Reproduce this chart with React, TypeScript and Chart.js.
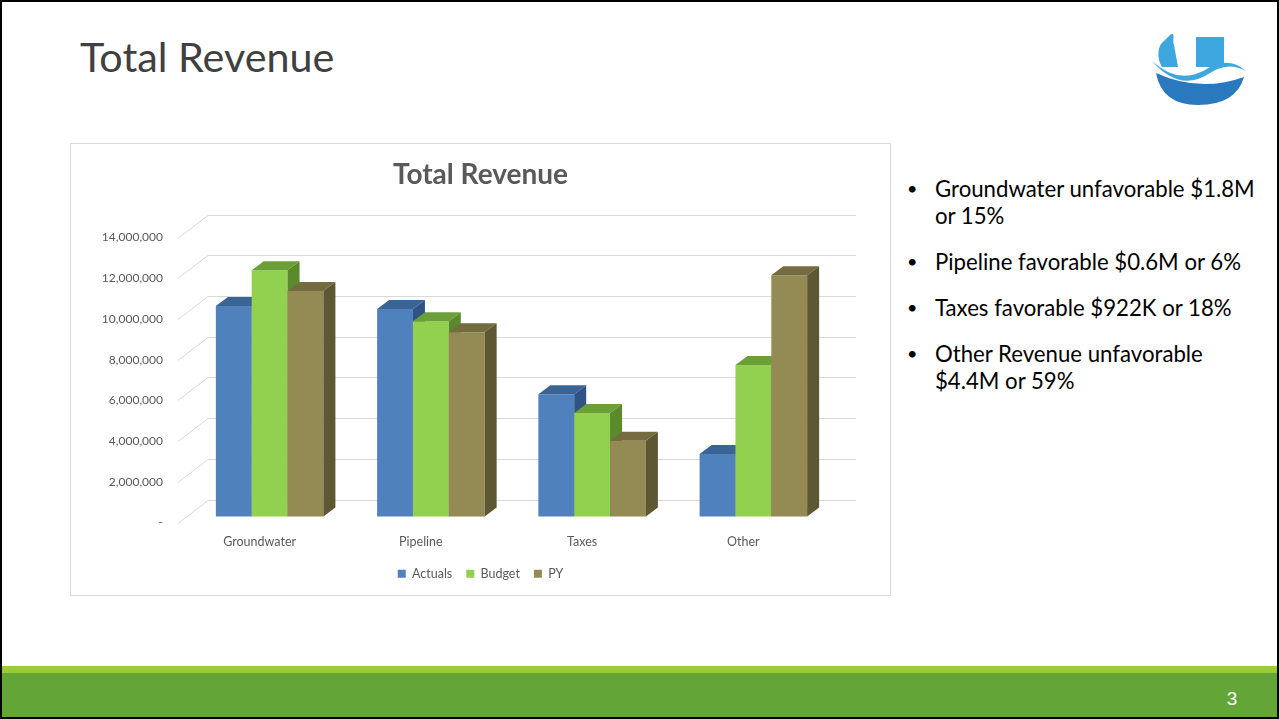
import React, { useEffect, useRef } from "react";
import { Chart, registerables } from "chart.js";

Chart.register(...registerables);

const categories = ["Groundwater", "Pipeline", "Taxes", "Other"];
const seriesNames = ["Actuals", "Budget", "PY"];
const actuals = [10340000, 10200000, 6010000, 3070000];
const budget = [12100000, 9600000, 5080000, 7450000];
const priorYear = [11080000, 9050000, 3720000, 11850000];
const yMin = 0;
const yMax = 14000000;
const yStep = 2000000;

const chartTitle = "Total Revenue";
const slideTitle = "Total Revenue";
const bullets = [
  "Groundwater unfavorable $1.8M or 15%",
  "Pipeline favorable $0.6M or 6%",
  "Taxes favorable $922K or 18%",
  "Other Revenue unfavorable $4.4M or 59%",
];
const pageNumber = "3";

const frontColors = ["#4F81BD", "#92D050", "#948A54"];
const topColors = ["#3A6494", "#6C9F38", "#746B40"];
const sideColors = ["#2E5384", "#5A8A2B", "#5E5734"];

const FONT = "Lato, 'Open Sans', sans-serif";

const fmt = (v: number) =>
  v === 0 ? "-" : String(Math.round(v)).replace(/\B(?=(\d{3})+(?!\d))/g, ",");

const DX = 12;
const DY = 9;

const threeDPlugin = {
  id: "threeD",
  beforeDraw(chart: any) {
    const { ctx, chartArea, scales } = chart;
    const y = scales.y;
    ctx.save();
    ctx.strokeStyle = "#D9D9D9";
    ctx.lineWidth = 1;
    y.ticks.forEach((t: any) => {
      const p = Math.round(y.getPixelForValue(t.value)) + 0.5;
      ctx.beginPath();
      ctx.moveTo(chartArea.left - 11, p + 6);
      ctx.lineTo(chartArea.left + 19, p - 17);
      ctx.lineTo(chartArea.right + 22, p - 17);
      ctx.stroke();
    });
    ctx.restore();
  },
  beforeDatasetsDraw(chart: any) {
    const { ctx } = chart;
    const n = chart.data.labels.length;
    ctx.save();
    for (let i = 0; i < n; i++) {
      chart.data.datasets.forEach((_ds: any, d: number) => {
        const meta = chart.getDatasetMeta(d);
        const el = meta.data[i];
        if (!el) return;
        const { x, y, base, width } = el.getProps(["x", "y", "base", "width"], true);
        const l = x - width / 2;
        const r = x + width / 2;
        el.draw(ctx);
        ctx.fillStyle = topColors[d];
        ctx.beginPath();
        ctx.moveTo(l, y);
        ctx.lineTo(r, y);
        ctx.lineTo(r + DX, y - DY);
        ctx.lineTo(l + DX, y - DY);
        ctx.closePath();
        ctx.fill();
        ctx.fillStyle = sideColors[d];
        ctx.beginPath();
        ctx.moveTo(r, y);
        ctx.lineTo(r + DX, y - DY);
        ctx.lineTo(r + DX, base - DY);
        ctx.lineTo(r, base);
        ctx.closePath();
        ctx.fill();
      });
    }
    ctx.restore();
    return false;
  },
};

function RevenueChart() {
  const ref = useRef<HTMLCanvasElement>(null);
  useEffect(() => {
    if (!ref.current) return;
    const series = [actuals, budget, priorYear];
    const chart = new Chart(ref.current, {
      type: "bar",
      data: {
        labels: categories,
        datasets: seriesNames.map((name, i) => ({
          label: name,
          data: series[i],
          backgroundColor: frontColors[i],
          borderWidth: 0,
          barPercentage: 1,
          categoryPercentage: 0.667,
          yAxisID: "y",
        })),
      },
      options: {
        responsive: false,
        animation: false,
        events: [],
        layout: { padding: { left: 0, right: 0, top: 0, bottom: 5 } },
        plugins: {
          title: {
            display: true,
            text: chartTitle,
            color: "#595959",
            font: { family: FONT, size: 28, weight: "bold" },
            padding: { top: 14, bottom: 40 },
          },
          legend: {
            position: "bottom",
            labels: {
              boxWidth: 8,
              boxHeight: 8,
              color: "#595959",
              padding: 14,
              font: { family: FONT, size: 12.5 },
            },
          },
          tooltip: { enabled: false },
        },
        scales: {
          x: {
            grid: { display: false, drawTicks: false },
            border: { display: false },
            ticks: {
              color: "#595959",
              font: { family: FONT, size: 12.5 },
              padding: 18,
              labelOffset: -10,
            },
            afterFit: (s: any) => {
              s.height = 37;
            },
          },
          y: {
            min: yMin,
            max: yMax,
            grid: { display: false, drawTicks: false },
            border: { display: false },
            ticks: {
              stepSize: yStep,
              color: "#595959",
              font: { family: FONT, size: 12 },
              padding: 26,
              labelOffset: 6,
              callback: (v: any) => fmt(Number(v)),
            },
            afterFit: (s: any) => {
              s.width = 118;
            },
          },
          yRightSpace: {
            position: "right",
            display: true,
            min: yMin,
            max: yMax,
            grid: { display: false, drawTicks: false },
            border: { display: false },
            ticks: { display: false },
            afterFit: (s: any) => {
              s.width = 56;
            },
          },
        },
      },
      plugins: [threeDPlugin],
    } as any);
    return () => chart.destroy();
  }, []);
  return <canvas ref={ref} width={819} height={451} style={{ display: "block" }} />;
}

function Logo() {
  return (
    <svg width="96" height="76" viewBox="0 0 96 76" style={{ position: "absolute", left: 1148, top: 29 }}>
      <rect x="46" y="6" width="28" height="30" fill="#3FA7DF" />
      <path d="M20 4 C26 0 22 10 24 14 L28 36 L12 36 C6 26 8 14 14 10 Z" fill="#3FA7DF" />
      <path d="M6 42 Q50 62 94 46 Q86 74 48 74 Q12 74 6 42 Z" fill="#2A79BF" />
      <path d="M2 30 Q30 56 60 36 Q80 26 96 40 Q78 30 60 42 Q30 62 2 30 Z" fill="#3FA7DF" />
    </svg>
  );
}

export default function App() {
  return (
    <div
      style={{
        position: "fixed",
        left: 0,
        top: 0,
        width: 1279,
        height: 719,
        background: "#FFFFFF",
        border: "2px solid #000",
        boxSizing: "border-box",
        overflow: "hidden",
        fontFamily: FONT,
      }}
    >
      <div
        style={{
          position: "absolute",
          left: 78,
          top: 29,
          fontSize: 41.3,
          fontWeight: 400,
          color: "#404040",
          lineHeight: "50px",
          whiteSpace: "nowrap",
        }}
      >
        {slideTitle}
      </div>
      <Logo />
      <div
        style={{
          position: "absolute",
          left: 68,
          top: 141,
          width: 821,
          height: 453,
          border: "1px solid #D9D9D9",
          boxSizing: "border-box",
        }}
      >
        <RevenueChart />
      </div>
      <div
        style={{
          position: "absolute",
          left: 905,
          top: 173,
          width: 362,
          fontSize: 22.2,
          color: "#000",
          lineHeight: "27px",
        }}
      >
        {bullets.map((b, i) => (
          <div key={i} style={{ position: "relative", paddingLeft: 28, marginBottom: 19 }}>
            <span style={{ position: "absolute", left: 0, top: 0, fontSize: 18 }}>•</span>
            {b}
          </div>
        ))}
      </div>
      <div style={{ position: "absolute", left: 0, right: 0, top: 664, height: 7, background: "#9BCB3B" }} />
      <div style={{ position: "absolute", left: 0, right: 0, top: 671, bottom: 0, background: "#63A537" }} />
      <div
        style={{
          position: "absolute",
          left: 1218,
          top: 684,
          width: 24,
          textAlign: "center",
          color: "#FFFFFF",
          fontSize: 19,
          fontFamily: "'Liberation Sans', Arial, sans-serif",
          lineHeight: "26px",
        }}
      >
        {pageNumber}
      </div>
    </div>
  );
}
